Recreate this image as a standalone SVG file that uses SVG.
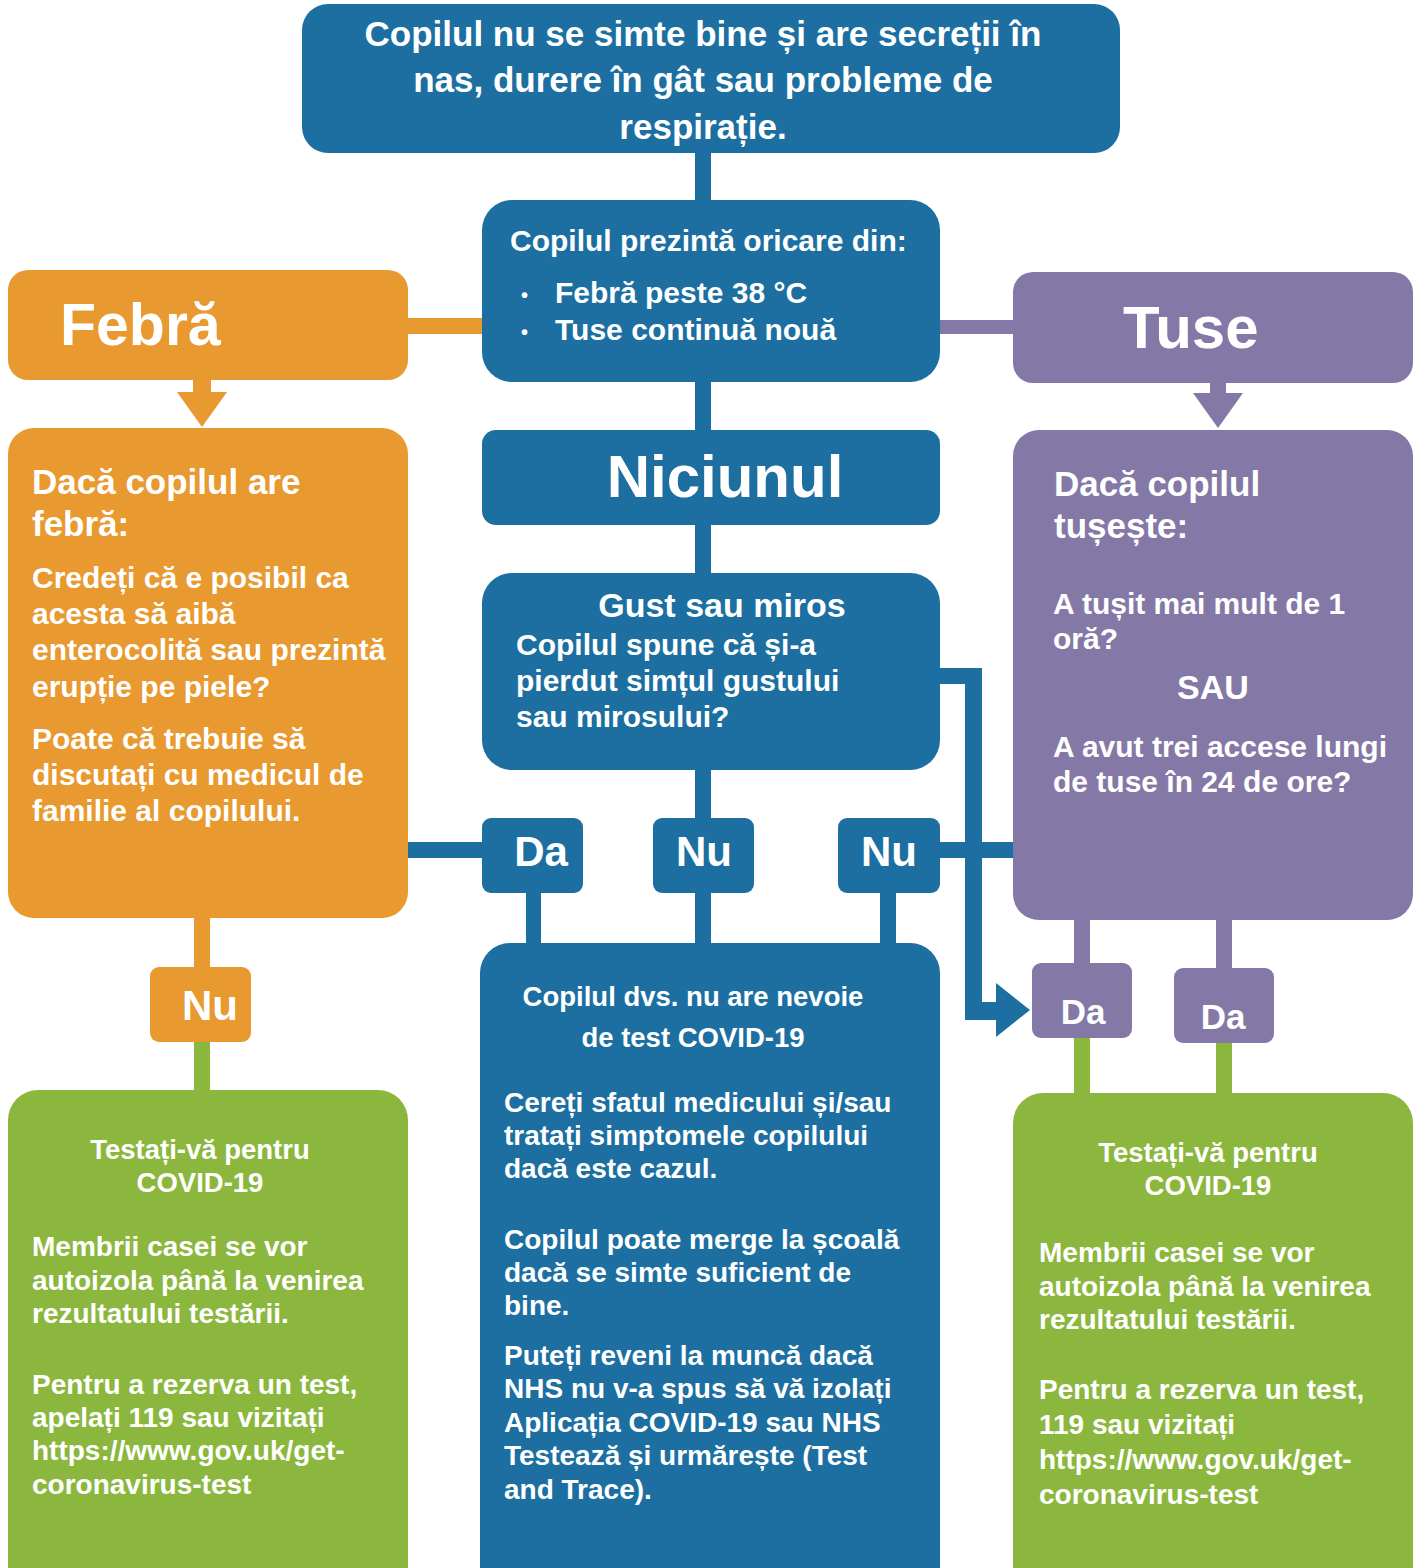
<svg xmlns="http://www.w3.org/2000/svg" width="1421" height="1568" viewBox="0 0 1421 1568">
<style>
text{font-family:"Liberation Sans",Arial,sans-serif;font-weight:bold;fill:#ffffff}
.blue{fill:#1c6fa0}.orange{fill:#e8992f}.purple{fill:#8479a6}.green{fill:#8cb73e}
.c{text-anchor:middle}
.t35{font-size:35px}.t30{font-size:30px}.t28{font-size:28px}.t60{font-size:60px}.t42{font-size:42px}
.bul{font-size:20px}
</style>
<rect width="1421" height="1568" fill="#ffffff"/>
<g id="connectors">
<rect class="blue" x="695" y="150" width="16" height="55"/>
<rect class="orange" x="405" y="318" width="80" height="16"/>
<rect class="purple" x="937" y="320" width="80" height="14"/>
<rect class="orange" x="193" y="377" width="18" height="18"/>
<path class="orange" d="M177 392 L227 392 L202 427 Z"/>
<rect class="purple" x="1210" y="380" width="16" height="15"/>
<path class="purple" d="M1193 393 L1243 393 L1218 428 Z"/>
<rect class="blue" x="695" y="378" width="16" height="55"/>
<rect class="blue" x="695" y="522" width="16" height="54"/>
<rect class="blue" x="695" y="767" width="16" height="54"/>
<rect class="blue" x="405" y="842" width="80" height="16"/>
<rect class="blue" x="937" y="842" width="80" height="16"/>
<path class="blue" d="M937 668 L982 668 L982 1002 L996 1002 L996 983 L1030 1010 L996 1037 L996 1020 L965 1020 L965 684 L937 684 Z"/>
<rect class="blue" x="526" y="890" width="15" height="56"/>
<rect class="blue" x="695" y="890" width="16" height="56"/>
<rect class="blue" x="880" y="890" width="16" height="56"/>
<rect class="orange" x="194" y="915" width="16" height="55"/>
<rect class="green" x="194" y="1039" width="16" height="54"/>
<rect class="purple" x="1074" y="917" width="16" height="49"/>
<rect class="purple" x="1216" y="917" width="16" height="54"/>
<rect class="green" x="1074" y="1035" width="16" height="61"/>
<rect class="green" x="1216" y="1040" width="16" height="56"/>
</g>
<g id="start">
<rect class="blue" x="302" y="4" width="818" height="149" rx="26"/>
<text class="t35 c" x="703" y="46">Copilul nu se simte bine și are secreții în</text>
<text class="t35 c" x="703" y="92">nas, durere în gât sau probleme de</text>
<text class="t35 c" x="703" y="139">respirație.</text>
</g>
<g id="symptoms">
<rect class="blue" x="482" y="200" width="458" height="182" rx="30"/>
<text class="t30" x="510" y="251">Copilul prezintă oricare din:</text>
<text class="bul" x="521" y="302">•</text>
<text class="t30" x="555" y="303">Febră peste 38 °C</text>
<text class="bul" x="521" y="339">•</text>
<text class="t30" x="555" y="340">Tuse continuă nouă</text>
</g>
<g id="febra">
<rect class="orange" x="8" y="270" width="400" height="110" rx="20"/>
<text x="60" y="345" style="font-size:59px">Febră</text>
</g>
<g id="tuse">
<rect class="purple" x="1013" y="272" width="400" height="111" rx="20"/>
<text class="t60" x="1123" y="348">Tuse</text>
</g>
<g id="febra-detail">
<rect class="orange" x="8" y="428" width="400" height="490" rx="26"/>
<text class="t35" x="32" y="494">Dacă copilul are</text>
<text class="t35" x="32" y="536">febră:</text>
<text class="t30" x="32" y="588">Credeți că e posibil ca</text>
<text class="t30" x="32" y="624">acesta să aibă</text>
<text class="t30" x="32" y="660">enterocolită sau prezintă</text>
<text class="t30" x="32" y="697">erupție pe piele?</text>
<text class="t30" x="32" y="749">Poate că trebuie să</text>
<text class="t30" x="32" y="785">discutați cu medicul de</text>
<text class="t30" x="32" y="821">familie al copilului.</text>
</g>
<g id="tuse-detail">
<rect class="purple" x="1013" y="430" width="400" height="490" rx="26"/>
<text class="t35" x="1054" y="496">Dacă copilul</text>
<text class="t35" x="1054" y="538">tușește:</text>
<text class="t30" x="1053" y="614">A tușit mai mult de 1</text>
<text class="t30" x="1053" y="649">oră?</text>
<text class="c" x="1213" y="699" style="font-size:34px">SAU</text>
<text class="t30" x="1053" y="757">A avut trei accese lungi</text>
<text class="t30" x="1053" y="792">de tuse în 24 de ore?</text>
</g>
<g id="niciunul">
<rect class="blue" x="482" y="430" width="458" height="95" rx="14"/>
<text class="t60 c" x="725" y="497">Niciunul</text>
</g>
<g id="gust">
<rect class="blue" x="482" y="573" width="458" height="197" rx="30"/>
<text class="c" x="722" y="617" style="font-size:34px">Gust sau miros</text>
<text class="t30" x="516" y="655">Copilul spune că și-a</text>
<text class="t30" x="516" y="691">pierdut simțul gustului</text>
<text class="t30" x="516" y="727">sau mirosului?</text>
</g>
<g id="gust-da">
<rect class="blue" x="482" y="818" width="101" height="75" rx="9"/>
<text class="t42 c" x="541" y="866">Da</text>
</g>
<g id="gust-nu">
<rect class="blue" x="653" y="818" width="101" height="75" rx="9"/>
<text class="t42 c" x="704" y="866">Nu</text>
</g>
<g id="tuse-nu">
<rect class="blue" x="838" y="818" width="102" height="75" rx="9"/>
<text class="t42 c" x="889" y="866">Nu</text>
</g>
<g id="febra-nu">
<rect class="orange" x="150" y="967" width="101" height="75" rx="9"/>
<text class="t42 c" x="210" y="1020">Nu</text>
</g>
<g id="tuse-da-1">
<rect class="purple" x="1032" y="963" width="100" height="75" rx="9"/>
<text class="c" x="1083" y="1024" style="font-size:35px">Da</text>
</g>
<g id="tuse-da-2">
<rect class="purple" x="1174" y="968" width="100" height="75" rx="9"/>
<text class="c" x="1223" y="1029" style="font-size:35px">Da</text>
</g>
<g id="no-test">
<rect class="blue" x="480" y="943" width="460" height="660" rx="30"/>
<text class="c" x="693" y="1006" style="font-size:27.5px">Copilul dvs. nu are nevoie</text>
<text class="c" x="693" y="1047" style="font-size:27.5px">de test COVID-19</text>
<text class="t28" x="504" y="1112">Cereți sfatul medicului și/sau</text>
<text class="t28" x="504" y="1145">tratați simptomele copilului</text>
<text class="t28" x="504" y="1178">dacă este cazul.</text>
<text class="t28" x="504" y="1249">Copilul poate merge la școală</text>
<text class="t28" x="504" y="1282">dacă se simte suficient de</text>
<text class="t28" x="504" y="1315">bine.</text>
<text class="t28" x="504" y="1365">Puteți reveni la muncă dacă</text>
<text class="t28" x="504" y="1398">NHS nu v-a spus să vă izolați</text>
<text class="t28" x="504" y="1432">Aplicația COVID-19 sau NHS</text>
<text class="t28" x="504" y="1465">Testează și urmărește (Test</text>
<text class="t28" x="504" y="1499">and Trace).</text>
</g>
<g id="test-left">
<rect class="green" x="8" y="1090" width="400" height="510" rx="30"/>
<text class="c" x="200" y="1159" style="font-size:27.5px">Testați-vă pentru</text>
<text class="c" x="200" y="1192" style="font-size:27.5px">COVID-19</text>
<text class="t28" x="32" y="1256">Membrii casei se vor</text>
<text class="t28" x="32" y="1290">autoizola până la venirea</text>
<text class="t28" x="32" y="1323">rezultatului testării.</text>
<text class="t28" x="32" y="1394">Pentru a rezerva un test,</text>
<text class="t28" x="32" y="1427">apelați 119 sau vizitați</text>
<text class="t28" x="32" y="1460">https://www.gov.uk/get-</text>
<text class="t28" x="32" y="1494">coronavirus-test</text>
</g>
<g id="test-right">
<rect class="green" x="1013" y="1093" width="400" height="510" rx="30"/>
<text class="c" x="1208" y="1162" style="font-size:27.5px">Testați-vă pentru</text>
<text class="c" x="1208" y="1195" style="font-size:27.5px">COVID-19</text>
<text class="t28" x="1039" y="1262">Membrii casei se vor</text>
<text class="t28" x="1039" y="1296">autoizola până la venirea</text>
<text class="t28" x="1039" y="1329">rezultatului testării.</text>
<text class="t28" x="1039" y="1399">Pentru a rezerva un test,</text>
<text class="t28" x="1039" y="1434">119 sau vizitați</text>
<text class="t28" x="1039" y="1469">https://www.gov.uk/get-</text>
<text class="t28" x="1039" y="1504">coronavirus-test</text>
</g>
</svg>
